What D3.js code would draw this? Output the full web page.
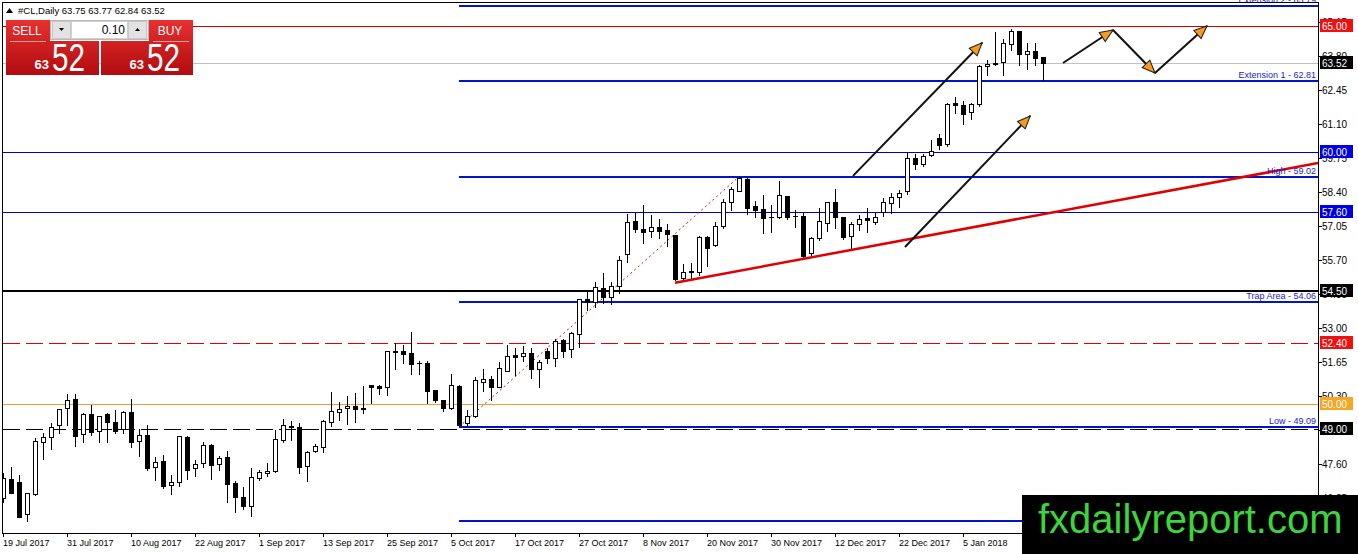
<!DOCTYPE html>
<html>
<head>
<meta charset="utf-8">
<script src="https://cdn.jsdelivr.net/npm/d3@7"></script>
<style>
  html, body { margin: 0; padding: 0; background: #fff; overflow: hidden; }
  svg { display: block; font-family: "Liberation Sans", Arial, sans-serif; }
</style>
</head>
<body>
<svg id="chart" width="1358" height="554"></svg>
<script>
// ---- Chart data ----
const symbolName = "#CL,Daily";
const lastQuote = [63.75, 63.77, 62.84, 63.52];

// one label every 8 bars, starting with bar 0
const dateLabels = ["19 Jul 2017", "31 Jul 2017", "10 Aug 2017", "22 Aug 2017", "1 Sep 2017",
  "13 Sep 2017", "25 Sep 2017", "5 Oct 2017", "17 Oct 2017", "27 Oct 2017", "8 Nov 2017",
  "20 Nov 2017", "30 Nov 2017", "12 Dec 2017", "22 Dec 2017", "5 Jan 2018"];

const opens = [46.26, 47.02, 46.89, 45.62, 46.43, 48.48, 48.68, 49.17, 49.83, 50.19,
  48.81, 49.60, 48.94, 49.62, 49.27, 48.99, 49.68, 48.53, 48.76, 47.49,
  47.74, 46.77, 46.92, 48.69, 47.45, 47.65, 48.36, 47.62, 47.88, 46.86,
  46.31, 45.94, 47.05, 47.25, 47.35, 48.56, 49.10, 49.09, 47.55, 48.12,
  48.31, 49.30, 49.67, 49.83, 49.92, 49.84, 50.74, 50.70, 50.66, 52.09,
  52.10, 52.04, 51.61, 51.64, 50.56, 50.15, 49.83, 50.72, 49.23, 49.54,
  50.89, 50.98, 50.69, 51.32, 51.93, 51.92, 52.01, 51.38, 52.12, 51.84,
  52.53, 52.18, 52.76, 54.15, 54.06, 54.59, 54.26, 54.68, 55.94, 57.26,
  56.93, 56.85, 57.01, 56.91, 56.71, 55.01, 55.24, 55.23, 56.64, 56.31,
  57.08, 58.03, 58.47, 58.93, 57.86, 57.73, 57.41, 57.41, 58.25, 57.46,
  57.46, 55.98, 56.57, 57.17, 58.00, 57.41, 56.68, 57.13, 57.37, 57.24,
  57.63, 57.99, 58.20, 58.47, 59.75, 59.51, 59.88, 60.57, 60.32, 61.93,
  61.85, 61.57, 61.89, 63.41, 63.53, 63.56, 64.29, 64.80, 63.87, 64.02, 63.75];

const highs = [47.25, 47.51, 47.17, 46.47, 48.64, 48.84, 49.23, 49.80, 50.40, 50.40,
  49.63, 49.96, 49.53, 49.66, 49.76, 49.71, 50.20, 48.99, 49.17, 47.88,
  47.98, 47.18, 48.74, 48.74, 47.78, 48.51, 48.41, 47.94, 48.15, 46.94,
  46.69, 47.46, 47.37, 47.65, 48.97, 49.40, 49.33, 49.23, 48.12, 48.41,
  49.35, 50.48, 50.09, 50.33, 50.44, 50.72, 50.76, 50.76, 52.11, 52.41,
  52.34, 52.85, 51.72, 51.69, 50.57, 50.16, 51.18, 50.77, 49.75, 51.06,
  51.38, 51.11, 51.68, 52.35, 52.24, 52.30, 52.21, 51.75, 52.21, 52.57,
  52.57, 52.84, 54.17, 54.46, 54.85, 55.21, 54.85, 55.87, 57.53, 57.57,
  57.90, 57.50, 57.33, 57.13, 56.72, 55.54, 55.58, 56.65, 56.67, 57.24,
  58.12, 58.59, 59.02, 58.96, 58.07, 58.29, 57.90, 58.85, 58.26, 57.70,
  57.57, 56.61, 57.77, 58.03, 58.52, 57.43, 57.24, 57.50, 57.77, 57.57,
  58.16, 58.36, 58.49, 59.95, 59.91, 59.91, 60.48, 60.70, 61.93, 62.17,
  62.04, 61.93, 63.45, 63.65, 64.75, 64.47, 64.88, 64.81, 64.34, 64.34, 63.77];

const lows = [46.12, 46.45, 45.50, 45.37, 46.39, 47.82, 48.21, 48.84, 49.17, 48.35,
  48.51, 48.77, 48.48, 48.51, 48.84, 48.86, 48.31, 47.95, 47.38, 46.98,
  46.65, 46.43, 46.76, 47.02, 47.14, 47.51, 47.04, 47.38, 46.12, 45.73,
  45.82, 45.57, 47.00, 47.14, 47.31, 48.51, 48.57, 47.25, 46.96, 48.10,
  48.11, 49.13, 49.37, 49.19, 49.30, 49.66, 50.05, 50.40, 50.36, 51.39,
  51.61, 51.19, 51.19, 50.05, 50.08, 49.74, 49.82, 49.10, 49.13, 49.50,
  50.53, 50.16, 50.68, 51.31, 51.15, 51.71, 51.04, 50.66, 51.64, 51.52,
  51.88, 51.88, 52.25, 53.73, 53.86, 53.99, 53.95, 54.42, 55.62, 56.81,
  56.38, 56.64, 56.57, 56.27, 54.93, 54.92, 54.95, 55.12, 55.48, 56.27,
  57.00, 57.70, 58.46, 57.53, 57.41, 56.77, 56.84, 57.37, 57.33, 57.04,
  55.85, 55.85, 56.51, 56.87, 57.00, 56.53, 56.14, 56.91, 56.81, 57.14,
  57.46, 57.59, 57.83, 58.32, 59.33, 59.45, 59.82, 60.11, 60.25, 61.56,
  61.10, 61.30, 61.83, 63.06, 63.45, 63.06, 64.05, 63.45, 63.28, 63.45, 62.84];

const closes = [47.05, 46.48, 45.53, 46.45, 48.53, 48.68, 49.10, 49.79, 50.16, 48.74,
  49.60, 48.90, 49.52, 49.30, 48.93, 49.68, 48.48, 48.76, 47.47, 47.69,
  46.76, 46.89, 48.72, 47.37, 47.61, 48.36, 47.59, 47.86, 46.81, 46.30,
  45.94, 47.09, 47.29, 47.34, 48.60, 49.15, 49.12, 47.51, 48.10, 48.33,
  49.33, 49.71, 49.79, 49.93, 49.82, 49.80, 50.69, 50.62, 52.10, 52.05,
  52.00, 51.58, 51.63, 50.53, 50.16, 49.84, 50.74, 49.15, 49.54, 50.94,
  50.99, 50.69, 51.42, 51.90, 51.88, 52.01, 51.38, 51.65, 51.84, 52.50,
  52.12, 52.80, 54.15, 54.06, 54.63, 54.26, 54.70, 55.71, 57.21, 56.93,
  56.81, 57.01, 56.88, 56.73, 54.95, 55.25, 55.26, 56.64, 56.20, 57.06,
  58.00, 58.52, 58.96, 57.79, 57.70, 57.36, 57.42, 58.29, 57.41, 57.46,
  55.87, 56.57, 57.26, 58.00, 57.43, 56.64, 57.13, 57.33, 57.28, 57.43,
  58.00, 58.20, 58.37, 59.75, 59.52, 59.84, 60.05, 60.28, 61.89, 61.85,
  61.50, 61.89, 63.43, 63.49, 63.49, 64.31, 64.78, 63.89, 64.02, 63.72, 63.52];

// right axis grid labels
const priceTicks = [65.15, 63.80, 62.45, 61.10, 59.75, 58.40, 57.05, 55.70, 54.35,
  53.00, 51.65, 50.30, 48.95, 47.60, 46.25];

// horizontal lines across the whole chart, each with a price tag on the axis
const levelValues = [65.00, 63.52, 60.00, 57.60, 54.50, 52.40, 50.00, 49.00];
const levelKinds = ["red", "bid", "blue", "blue", "black", "redDash", "orange", "blackDash"];

// named levels drawn from the swing low onwards
const fiboValues = [65.79, 62.81, 59.02, 54.06, 49.09, 45.36];
const fiboNames = ["Extension 2", "Extension 1", "High", "Trap Area", "Low", ""];
const fiboStartBar = 57;

// trend lines as [bar index, price] pairs
const redTrend = [[84, 54.81], [106, 56.11]];
const dottedTrend = [[57, 49.09], [92, 59.02]];
const arrowPaths = [
  [[106.25, 59.05], [122.4, 64.33]],
  [[112.75, 56.23], [128.4, 61.43]],
  [[132.5, 63.53], [138.75, 64.84]],
  [[138.75, 64.84], [144, 63.13]],
  [[144, 63.13], [150.5, 65.00]]
];

const sellPrice = "63.52", buyPrice = "63.52", lotSize = "0.10";
const watermark = "fxdailyreport.com";

// ---- Layout ----
const plot = {left: 3, right: 1318, top: 3, bottom: 533};
const barStep = 8;

const svg = d3.select("#chart");

const x = d3.scaleLinear()
  .domain([0, (plot.right - plot.left) / barStep])
  .range([plot.left, plot.right]);

const y = d3.scaleLinear()
  .domain([44.88, 65.91])
  .range([plot.bottom, plot.top]);

const defs = svg.append("defs");
defs.append("clipPath").attr("id", "plotClip")
  .append("rect")
  .attr("x", plot.left).attr("y", plot.top)
  .attr("width", plot.right - plot.left).attr("height", plot.bottom - plot.top);

// orange arrow head
defs.append("marker")
  .attr("id", "head")
  .attr("markerUnits", "userSpaceOnUse")
  .attr("viewBox", "0 0 14 12")
  .attr("refX", 13).attr("refY", 6)
  .attr("markerWidth", 15).attr("markerHeight", 13)
  .attr("orient", "auto")
  .append("path")
  .attr("d", "M1,1 L13,6 L1,11 Z")
  .style("fill", "#f39c1f")
  .style("stroke", "#222")
  .style("stroke-width", 1);

let grad = defs.append("linearGradient")
  .attr("id", "redGrad")
  .attr("gradientUnits", "userSpaceOnUse")
  .attr("x1", 0).attr("y1", 20).attr("x2", 0).attr("y2", 75);
grad.append("stop").attr("offset", 0).attr("stop-color", "#e8302f");
grad.append("stop").attr("offset", 1).attr("stop-color", "#b00c10");

const px = v => Math.round(v) + 0.5;

// ---- Right axis ticks ----
let axisG = svg.append("g");
priceTicks.forEach(v => {
  axisG.append("line")
    .attr("x1", plot.right).attr("x2", plot.right + 4)
    .attr("y1", px(y(v))).attr("y2", px(y(v)))
    .style("stroke", "#000").style("stroke-width", 1);
  axisG.append("text")
    .attr("x", plot.right + 4).attr("y", y(v)).attr("dy", "0.35em")
    .style("font-size", "10px").style("fill", "#000")
    .text(v.toFixed(2));
});

// ---- Bottom axis ----
dateLabels.forEach((label, k) => {
  let bx = x(k * barStep);
  axisG.append("line")
    .attr("x1", px(bx)).attr("x2", px(bx))
    .attr("y1", plot.bottom).attr("y2", plot.bottom + 4)
    .style("stroke", "#000");
  axisG.append("text")
    .attr("x", bx).attr("y", 546)
    .style("font-size", "9px").style("fill", "#000")
    .text(label);
});

// ---- Plot contents ----
let plotG = svg.append("g").attr("clip-path", "url(#plotClip)");

// full width levels
const levelStyle = {
  red:       {color: "#d00000", width: 1, dash: null, tag: "#f01010", text: "#fff"},
  bid:       {color: "#c0c0c0", width: 1, dash: null, tag: "#000", text: "#fff"},
  blue:      {color: "#0000c8", width: 1, dash: null, tag: "#0000e6", text: "#fff"},
  black:     {color: "#000", width: 2, dash: null, tag: "#000", text: "#fff"},
  redDash:   {color: "#e00000", width: 1, dash: "17 6", tag: "#f01010", text: "#fff"},
  orange:    {color: "#f0a028", width: 1, dash: null, tag: "#f5a623", text: "#fff"},
  blackDash: {color: "#000", width: 1, dash: "17 6", tag: "#000", text: "#fff"}
};

levelValues.forEach((v, k) => {
  let st = levelStyle[levelKinds[k]];
  let ly = st.width === 2 ? Math.round(y(v)) : px(y(v));
  let line = plotG.append("line")
    .attr("x1", plot.left).attr("x2", plot.right)
    .attr("y1", ly).attr("y2", ly)
    .style("stroke", st.color)
    .style("stroke-width", st.width);
  if (st.dash) {
    line.style("stroke-dasharray", st.dash);
  }
});

// named levels from the swing low
fiboValues.forEach((v, k) => {
  let ly = Math.round(y(v));
  plotG.append("line")
    .attr("x1", x(fiboStartBar)).attr("x2", plot.right)
    .attr("y1", ly).attr("y2", ly)
    .style("stroke", "#0014c8")
    .style("stroke-width", 2.2);
});

// dotted red line swing low -> swing high
plotG.append("line")
  .attr("x1", x(dottedTrend[0][0])).attr("y1", y(dottedTrend[0][1]))
  .attr("x2", x(dottedTrend[1][0])).attr("y2", y(dottedTrend[1][1]))
  .style("stroke", "#d01010")
  .style("stroke-width", 1)
  .style("stroke-dasharray", "2 3");

// ---- Candles ----
let candleG = plotG.append("g").attr("shape-rendering", "crispEdges");
opens.forEach((o, i) => {
  let c = closes[i];
  let cx = Math.round(x(i));
  candleG.append("line")
    .attr("x1", cx + 0.5).attr("x2", cx + 0.5)
    .attr("y1", Math.round(y(highs[i]))).attr("y2", Math.round(y(lows[i])) + 1)
    .style("stroke", "#000").style("stroke-width", 1);

  let top = Math.round(y(Math.max(o, c)));
  let bot = Math.round(y(Math.min(o, c)));
  if (bot - top < 1) {
    candleG.append("line")
      .attr("x1", cx - 2).attr("x2", cx + 3)
      .attr("y1", top + 0.5).attr("y2", top + 0.5)
      .style("stroke", "#000");
  } else {
    candleG.append("rect")
      .attr("x", cx - 1.5).attr("y", top + 0.5)
      .attr("width", 4).attr("height", bot - top)
      .style("fill", c >= o ? "#fff" : "#000")
      .style("stroke", "#000").style("stroke-width", 1);
  }
});

// ---- Red trend line, extended to the right edge ----
let slope = (redTrend[1][1] - redTrend[0][1]) / (redTrend[1][0] - redTrend[0][0]);
let endBar = x.domain()[1];
plotG.append("line")
  .attr("x1", x(redTrend[0][0])).attr("y1", y(redTrend[0][1]))
  .attr("x2", x(endBar)).attr("y2", y(redTrend[0][1] + slope * (endBar - redTrend[0][0])))
  .style("stroke", "#e00000")
  .style("stroke-width", 2.5);

// ---- Arrows ----
arrowPaths.forEach(a => {
  plotG.append("line")
    .attr("x1", x(a[0][0])).attr("y1", y(a[0][1]))
    .attr("x2", x(a[1][0])).attr("y2", y(a[1][1]))
    .style("stroke", "#111")
    .style("stroke-width", 2)
    .attr("marker-end", "url(#head)");
});

// ---- Level name labels ----
fiboValues.forEach((v, k) => {
  if (!fiboNames[k]) return;
  svg.append("text")
    .attr("x", plot.right - 2).attr("y", Math.round(y(v)) - 3)
    .attr("text-anchor", "end")
    .style("font-size", "9px").style("fill", "#1a1ad0")
    .text(fiboNames[k] + " - " + v.toFixed(2));
});

// ---- Frame ----
svg.append("rect")
  .attr("x", plot.left - 0.5).attr("y", plot.top - 0.5)
  .attr("width", plot.right - plot.left + 1).attr("height", plot.bottom - plot.top + 1)
  .style("fill", "none").style("stroke", "#000").style("stroke-width", 1);

// ---- Price tags on the axis ----
levelValues.forEach((v, k) => {
  let st = levelStyle[levelKinds[k]];
  let ty = Math.round(y(v));
  svg.append("rect")
    .attr("x", plot.right + 2).attr("y", ty - 7)
    .attr("width", 33).attr("height", 13)
    .style("fill", st.tag);
  svg.append("text")
    .attr("x", plot.right + 4).attr("y", ty).attr("dy", "0.35em")
    .style("font-size", "10px").style("fill", st.text)
    .text(v.toFixed(2));
});

// ---- Header ----
svg.append("path")
  .attr("d", "M6,13 L9.5,8 L13,13 Z")
  .style("fill", "#000");
svg.append("text")
  .attr("x", 18).attr("y", 14)
  .style("font-size", "9.5px").style("fill", "#000")
  .text(symbolName + "  " + lastQuote.map(d => d.toFixed(2)).join(" "));

// ---- One click trading panel ----
let panel = svg.append("g");
function redBox(bx, by, bw, bh) {
  panel.append("rect")
    .attr("x", bx).attr("y", by).attr("width", bw).attr("height", bh)
    .style("fill", "url(#redGrad)");
}
redBox(6, 20, 44, 22);
redBox(6, 41, 93, 34);
redBox(149, 20, 44, 22);
redBox(101, 41, 92, 34);

panel.append("line").attr("x1", 10).attr("x2", 46).attr("y1", 41.5).attr("y2", 41.5)
  .style("stroke", "#f0a0a0");
panel.append("line").attr("x1", 153).attr("x2", 189).attr("y1", 41.5).attr("y2", 41.5)
  .style("stroke", "#f0a0a0");

panel.append("rect").attr("x", 50.5).attr("y", 20.5).attr("width", 98).attr("height", 19)
  .style("fill", "#e8e8e8").style("stroke", "#b8b8b8");
panel.append("rect").attr("x", 52.5).attr("y", 21.5).attr("width", 18).attr("height", 17)
  .style("fill", "#e2e2e2").style("stroke", "#c8c8c8");
panel.append("rect").attr("x", 71.5).attr("y", 21.5).attr("width", 56).attr("height", 17)
  .style("fill", "#fff").style("stroke", "#d0d0d0");
panel.append("rect").attr("x", 128.5).attr("y", 21.5).attr("width", 18).attr("height", 17)
  .style("fill", "#e2e2e2").style("stroke", "#c8c8c8");
panel.append("path").attr("d", "M59,28 L64,28 L61.5,31 Z").style("fill", "#000");
panel.append("path").attr("d", "M135,31 L140,31 L137.5,28 Z").style("fill", "#000");
panel.append("text")
  .attr("x", 125).attr("y", 34).attr("text-anchor", "end")
  .style("font-size", "12px").style("fill", "#000")
  .text(lotSize);

panel.append("text").attr("x", 27).attr("y", 35).attr("text-anchor", "middle")
  .style("font-size", "12px").style("fill", "#fff").text("SELL");
panel.append("text").attr("x", 170).attr("y", 35).attr("text-anchor", "middle")
  .style("font-size", "12px").style("fill", "#fff").text("BUY");

function bigPrice(price, smallEnd, bigStart) {
  let parts = price.split(".");
  panel.append("text")
    .attr("x", smallEnd).attr("y", 69).attr("text-anchor", "end")
    .style("font-size", "13px").style("font-weight", "bold").style("fill", "#fff")
    .text(parts[0]);
  panel.append("text")
    .attr("x", bigStart).attr("y", 71)
    .attr("textLength", 33).attr("lengthAdjust", "spacingAndGlyphs")
    .style("font-size", "38px").style("fill", "#fff")
    .text(parts[1]);
}
bigPrice(sellPrice, 49, 52);
bigPrice(buyPrice, 144, 147);

// ---- Watermark ----
svg.append("rect")
  .attr("x", 1022).attr("y", 495).attr("width", 336).attr("height", 59)
  .style("fill", "#000");
svg.append("text")
  .attr("x", 1038).attr("y", 533)
  .style("font-size", "40px").style("fill", "#3cd63c")
  .text(watermark);
</script>
</body>
</html>
